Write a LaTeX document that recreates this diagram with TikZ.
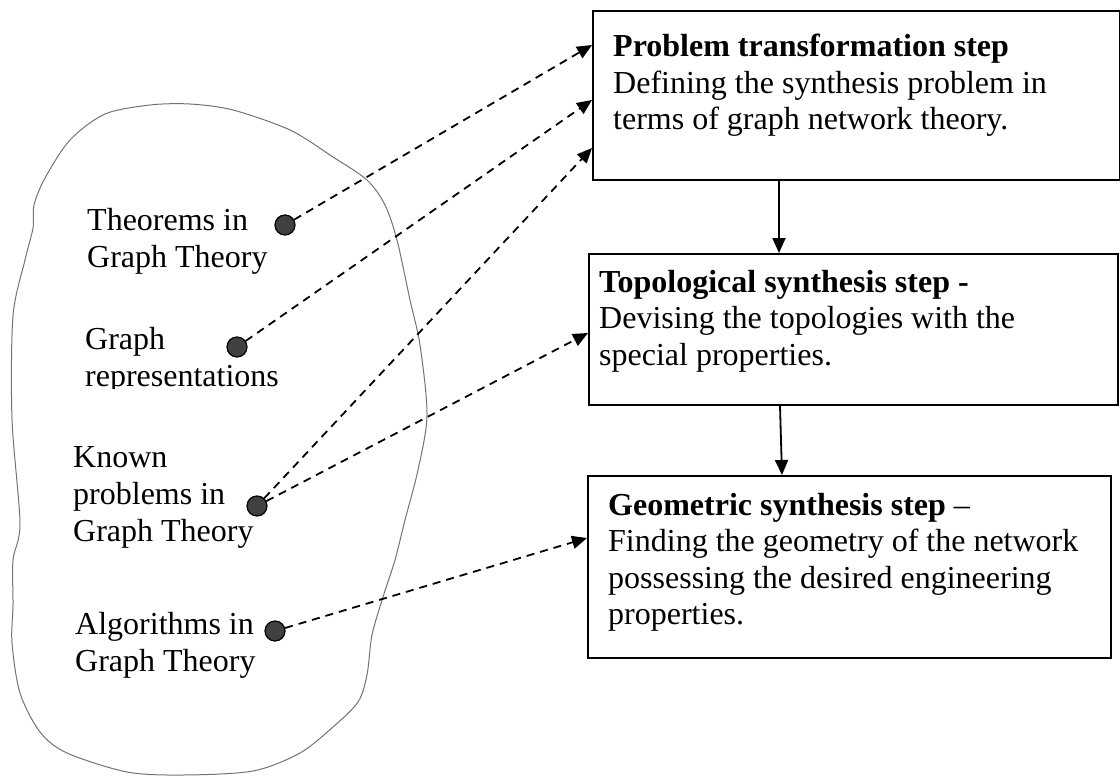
\documentclass[tikz,border=0pt]{standalone}
\usepackage{fontspec}
\setmainfont{Liberation Serif}
\usetikzlibrary{positioning,arrows.meta,calc}

\begin{document}
\begin{tikzpicture}[
    x=1pt, y=-1pt,
    node distance=0pt,
    stepbox/.style={draw, line width=1.8pt, rectangle, anchor=north west, inner sep=0pt},
    steptext/.style={anchor=north west, align=left, inner sep=0pt, font=\fontsize{32}{36.5}\selectfont},
    lbl/.style={anchor=north west, align=left, inner sep=0pt, font=\fontsize{32}{37}\selectfont},
    dot/.style={circle, draw, fill=black!75, line width=1.2pt, minimum size=20pt, inner sep=0pt},
    link/.style={line width=1.8pt, dash pattern=on 8pt off 6pt, -{Triangle[length=15pt,width=13pt]}},
    flow/.style={line width=1.8pt, -{Triangle[length=15pt,width=13pt]}}
  ]
  \useasboundingbox (0,0) rectangle (1120,776);

  % the region of graph theory
  \draw[black!55, line width=1pt] plot[smooth cycle, tension=0.5] coordinates {
    (150,105) (190,104) (233,110) (290,130) (333,157) (367,180) (385,205)
    (397,240) (410,300) (420,345) (427,415) (418,470) (405,520) (395,560)
    (383,597) (372,635) (367,675) (358,702) (333,727) (300,753) (253,771)
    (183,775) (127,772) (67,753) (40,732) (20,693) (12,643) (13,605)
    (13,560) (20,523) (12,419) (13,316) (25,260) (33,228) (34,205)
    (45,178) (70,140) (105,114)};

  % steps
  \node[stepbox, minimum width=527pt, minimum height=169pt] (prob) at (592,10) {};
  \node[stepbox, minimum width=529pt, minimum height=151pt] (topo) at (588,253) {};
  \node[stepbox, minimum width=523pt, minimum height=182pt] (geom) at (587,475) {};

  \node[steptext, below right=24pt and 21pt of prob.north west] (probtxt)
    {\textbf{Problem transformation step}\\Defining the synthesis problem in\\terms of graph network theory.};
  \node[steptext, below right=17pt and 11pt of topo.north west] (topotxt)
    {\textbf{Topological synthesis step -}\\Devising the topologies with the\\special properties.};
  \node[steptext, below right=18pt and 21pt of geom.north west] (geomtxt)
    {\textbf{Geometric synthesis step} --\\Finding the geometry of the network\\possessing the desired engineering\\properties.};

  % items
  \node[lbl] (thmtxt) at (87,208) {Theorems in\\Graph Theory};
  \begin{scope}
    \clip (0,0) rectangle (420,388);
    \node[lbl] (reptxt) at (85,327) {Graph\\representations};
  \end{scope}
  \node[lbl] (kntxt) at (73,446) {Known\\problems in\\Graph Theory};
  \node[lbl] (algtxt) at (75,612) {Algorithms in\\Graph Theory};

  \node[dot] (thm) at (285,225) {};
  \node[dot] (rep) at (237,347) {};
  \node[dot] (kn) at (257,506) {};
  \node[dot] (alg) at (275,631) {};

  % links
  \draw[link] (thm) -- ($(prob.north west)+(0,35)$);
  \draw[link] (rep) -- ($(prob.north west)+(0,90)$);
  \draw[link] (kn) -- ($(prob.north west)+(0,138)$);
  \draw[link] (kn) -- ($(topo.north west)+(0,80)$);
  \draw[link] (alg) -- ($(geom.north west)+(0,63)$);

  \draw[flow] ($(prob.south west)+(187,0)$) -- ($(topo.north west)+(191,0)$);
  \draw[flow] ($(topo.south west)+(192,0)$) -- ($(geom.north west)+(195,0)$);
\end{tikzpicture}
\end{document}
